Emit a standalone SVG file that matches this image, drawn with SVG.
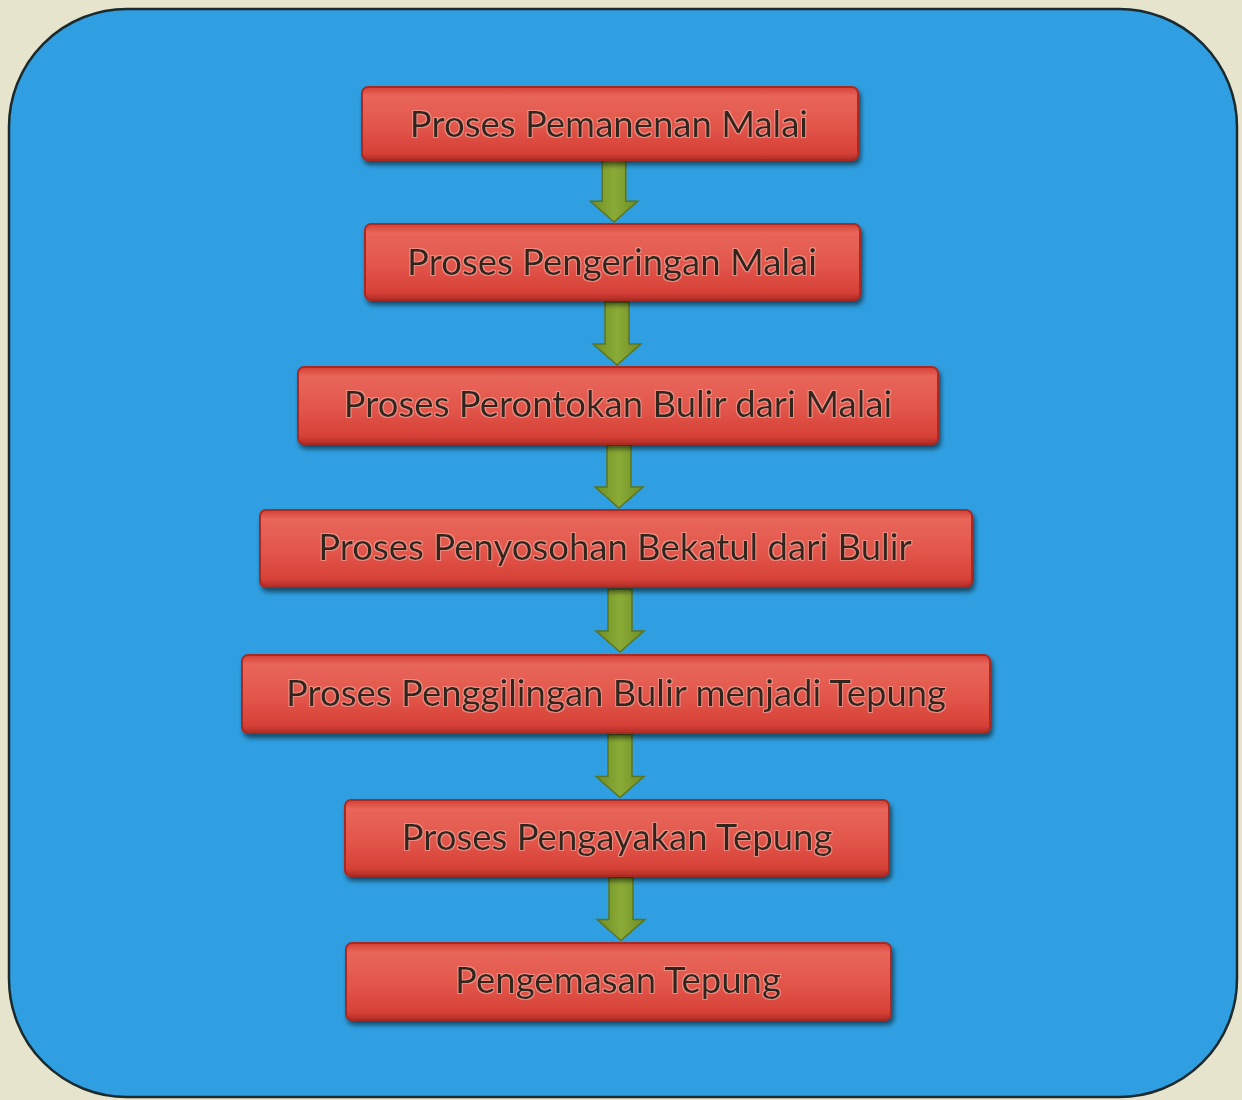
<svg xmlns="http://www.w3.org/2000/svg" width="1242" height="1100" viewBox="0 0 1242 1100">
  <defs>
    <linearGradient id="boxFill" x1="0" y1="0" x2="0" y2="1">
      <stop offset="0" stop-color="#d43f35"/>
      <stop offset="0.12" stop-color="#e8665a"/>
      <stop offset="0.55" stop-color="#e2554a"/>
      <stop offset="0.9" stop-color="#d64137"/>
      <stop offset="1" stop-color="#b02d26"/>
    </linearGradient>
    <linearGradient id="arrowFill" x1="0" y1="0" x2="1" y2="0">
      <stop offset="0" stop-color="#6f8d26"/>
      <stop offset="0.5" stop-color="#8aab36"/>
      <stop offset="1" stop-color="#6f8d26"/>
    </linearGradient>
    <filter id="shadow" x="-5%" y="-20%" width="110%" height="150%">
      <feGaussianBlur in="SourceAlpha" stdDeviation="2.5"/>
      <feOffset dx="2" dy="4" result="b"/>
      <feComponentTransfer><feFuncA type="linear" slope="0.55"/></feComponentTransfer>
      <feMerge><feMergeNode/><feMergeNode in="SourceGraphic"/></feMerge>
    </filter>
    <filter id="glow" x="-5%" y="-30%" width="110%" height="160%">
      <feMorphology in="SourceAlpha" operator="dilate" radius="1" result="d"/>
      <feFlood flood-color="#f4b0a8" flood-opacity="0.6"/>
      <feComposite in2="d" operator="in" result="g"/>
      <feMerge><feMergeNode in="g"/><feMergeNode in="SourceGraphic"/></feMerge>
    </filter>
    <symbol id="arrowDown" viewBox="0 0 50 64" overflow="visible">
      <path d="M13,0 H37 V42 H49 L25,63 L1,42 H13 Z" fill="url(#arrowFill)" stroke="#5b7420" stroke-width="1.5"/>
    </symbol>
  </defs>
  <style>
    .box { fill: url(#boxFill); stroke: #a82a22; stroke-width: 2; filter: url(#shadow); }
    .label { font-family: Lato, "Open Sans", "Liberation Sans", sans-serif; font-size: 36.5px; fill: #32281c; text-anchor: middle; filter: url(#glow); }
  </style>

  <!-- page and panel -->
  <rect x="0" y="0" width="1242" height="1100" fill="#e6e4cc"/>
  <rect x="9" y="9" width="1228" height="1088" rx="118" ry="118" fill="#2f9fe1" stroke="#1c2a2e" stroke-width="2.5"/>

  <!-- connectors -->
  <g id="connectors">
    <use href="#arrowDown" x="589" y="160" width="50" height="63"/>
    <use href="#arrowDown" x="592" y="301" width="50" height="66"/>
    <use href="#arrowDown" x="594" y="444" width="50" height="66"/>
    <use href="#arrowDown" x="595" y="587" width="50" height="68"/>
    <use href="#arrowDown" x="595" y="733" width="50" height="67"/>
    <use href="#arrowDown" x="596" y="876" width="50" height="67"/>
  </g>

  <!-- process steps -->
  <g id="step1">
    <rect class="box" x="362" y="87" width="496" height="73" rx="6"/>
    <text class="label" x="609" y="137">Proses Pemanenan Malai</text>
  </g>
  <g id="step2">
    <rect class="box" x="365" y="224" width="495" height="76" rx="6"/>
    <text class="label" x="612" y="275">Proses Pengeringan Malai</text>
  </g>
  <g id="step3">
    <rect class="box" x="298" y="367" width="640" height="77" rx="6"/>
    <text class="label" x="618" y="417">Proses Perontokan Bulir dari Malai</text>
  </g>
  <g id="step4">
    <rect class="box" x="260" y="510" width="712" height="77" rx="6"/>
    <text class="label" x="615" y="560">Proses Penyosohan Bekatul dari Bulir</text>
  </g>
  <g id="step5">
    <rect class="box" x="242" y="655" width="748" height="78" rx="6"/>
    <text class="label" x="616" y="706">Proses Penggilingan Bulir menjadi Tepung</text>
  </g>
  <g id="step6">
    <rect class="box" x="345" y="800" width="544" height="76" rx="6"/>
    <text class="label" x="617" y="850">Proses Pengayakan Tepung</text>
  </g>
  <g id="step7">
    <rect class="box" x="346" y="943" width="545" height="77" rx="6"/>
    <text class="label" x="618" y="993">Pengemasan Tepung</text>
  </g>
</svg>
